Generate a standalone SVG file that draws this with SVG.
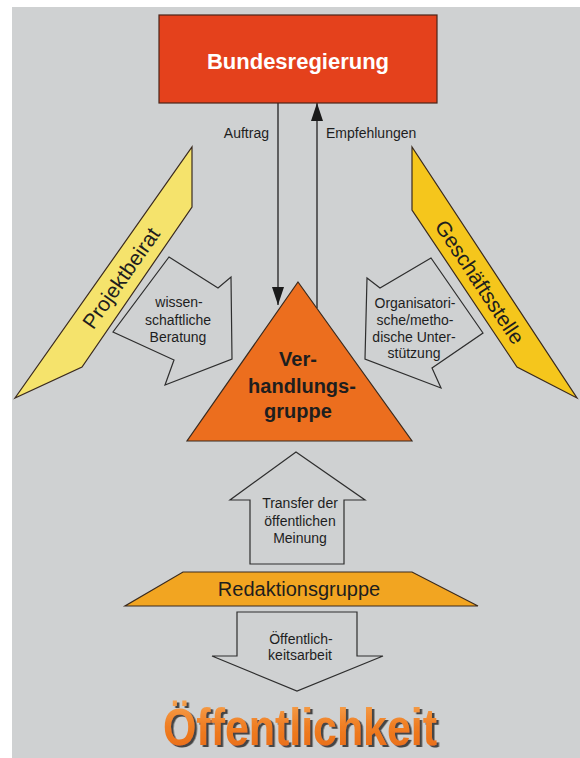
<svg xmlns="http://www.w3.org/2000/svg" width="580" height="758" viewBox="0 0 580 758">
  <defs>
    <style>
      .lbl { font-family: "Liberation Sans", Arial, sans-serif; fill: #1e1e1e; }
      .blk { fill: none; stroke: #2e2e2e; stroke-width: 1.2; stroke-linejoin: miter; }
      .edge { stroke: #2e2e2e; stroke-width: 1.4; fill: none; }
      .shape { stroke: #3a2a1e; stroke-width: 1.2; stroke-linejoin: miter; }
    </style>
    <marker id="ah" viewBox="0 0 18 12" refX="18" refY="6" markerWidth="18" markerHeight="12" markerUnits="userSpaceOnUse" orient="auto">
      <path d="M0,0 L18,6 L0,12 z" fill="#1a1a1a"/>
    </marker>
    <linearGradient id="og" x1="0" y1="0" x2="0" y2="1">
      <stop offset="0" stop-color="#f6a552"/>
      <stop offset="0.5" stop-color="#ef7d22"/>
      <stop offset="1" stop-color="#e86a14"/>
    </linearGradient>
    <filter id="shadow" x="-5%" y="-10%" width="115%" height="130%">
      <feDropShadow dx="2.5" dy="2" stdDeviation="0.4" flood-color="#444444" flood-opacity="1"/>
    </filter>
  </defs>

  <rect x="0" y="0" width="580" height="758" fill="#ffffff"/>
  <rect x="12" y="7" width="568" height="751" fill="#cfd1d2"/>

  <g id="connectors">
    <line class="edge" x1="278" y1="103" x2="278" y2="305" marker-end="url(#ah)"/>
    <line class="edge" x1="317" y1="308" x2="317" y2="103" marker-end="url(#ah)"/>
    <text class="lbl" x="269" y="138" font-size="14" text-anchor="end">Auftrag</text>
    <text class="lbl" x="326" y="138" font-size="14">Empfehlungen</text>
  </g>

  <g id="bundesregierung">
    <rect x="159" y="15" width="278" height="88" fill="#e4411c" stroke="#4a2418" stroke-width="1.2"/>
    <text class="lbl" x="298" y="69" font-size="22" font-weight="bold" text-anchor="middle" style="fill:#ffffff">Bundesregierung</text>
  </g>

  <g id="projektbeirat">
    <polygon class="shape" points="192,147 192,207 82,367 15,398" fill="#f5e36c"/>
    <text class="lbl" x="121" y="278" font-size="21" text-anchor="middle" dominant-baseline="central" transform="rotate(-55 121 278)">Projektbeirat</text>
  </g>

  <g id="geschaeftsstelle">
    <polygon class="shape" points="412,147 412,210 517,367 577,398" fill="#f5c61c"/>
    <text class="lbl" x="480" y="282" font-size="21" text-anchor="middle" dominant-baseline="central" transform="rotate(56.5 480 282)">Geschäftsstelle</text>
  </g>

  <g id="wissenschaftliche-beratung">
    <polygon class="blk" points="169,257 218,288 231,277 232,359 165,385 174,360 113,332"/>
    <text class="lbl" font-size="14" text-anchor="middle"><tspan x="179" y="307">wissen-</tspan><tspan x="178" y="325">schaftliche</tspan><tspan x="178" y="342">Beratung</tspan></text>
  </g>

  <g id="organisatorische-unterstuetzung">
    <polygon class="blk" points="431,258 380,288 367,278 365,359 441,388 432,368 483,333"/>
    <text class="lbl" font-size="14" text-anchor="middle"><tspan x="415" y="308">Organisatori-</tspan><tspan x="415" y="325">sche/metho-</tspan><tspan x="414" y="342">dische Unter-</tspan><tspan x="414" y="358">stützung</tspan></text>
  </g>

  <g id="verhandlungsgruppe">
    <polygon class="shape" points="298,282 412,441 187,441" fill="#ec6e1e"/>
    <text class="lbl" font-size="20" font-weight="bold" text-anchor="middle"><tspan x="298" y="366">Ver-</tspan><tspan x="302" y="393">handlungs-</tspan><tspan x="298" y="418">gruppe</tspan></text>
  </g>

  <g id="transfer">
    <polygon class="blk" points="296,452 365,500 344,500 344,564 250,564 250,500 230,500"/>
    <text class="lbl" font-size="14" text-anchor="middle"><tspan x="300" y="508">Transfer der</tspan><tspan x="300" y="526">öffentlichen</tspan><tspan x="300" y="543">Meinung</tspan></text>
  </g>

  <g id="redaktionsgruppe">
    <polygon class="shape" points="183,572 412,572 478,606 125,606" fill="#f2a521"/>
    <text class="lbl" x="299" y="596" font-size="20" text-anchor="middle">Redaktionsgruppe</text>
  </g>

  <g id="oeffentlichkeitsarbeit">
    <polygon class="blk" points="237,612 357,612 357,656 383,656 297,691 212,656 237,656"/>
    <text class="lbl" font-size="14" text-anchor="middle"><tspan x="301" y="644">Öffentlich-</tspan><tspan x="300" y="660">keitsarbeit</tspan></text>
  </g>

  <g id="oeffentlichkeit">
    <text x="300" y="745" font-family="'Liberation Sans', Arial, sans-serif" font-size="52" font-weight="bold" text-anchor="middle" textLength="274" lengthAdjust="spacingAndGlyphs" fill="url(#og)" filter="url(#shadow)">Öffentlichkeit</text>
  </g>
</svg>
